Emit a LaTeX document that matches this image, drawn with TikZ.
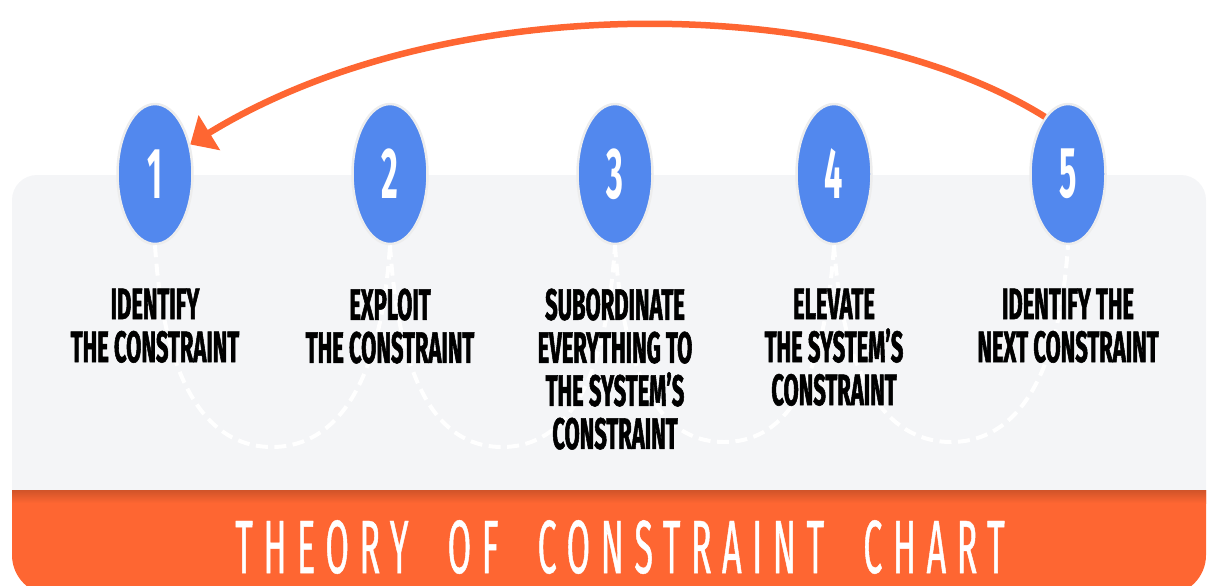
\documentclass[tikz,border=0pt]{standalone}
\usepackage{fontspec}
\usetikzlibrary{positioning,shapes.geometric,arrows.meta}
\newfontfamily\stepfont{Fira Sans}[FakeStretch=0.5,FakeBold=1.2]
\newfontfamily\numfont{Fira Sans}[FakeStretch=0.45]
\newfontfamily\titlefont{Fira Sans}[FakeStretch=0.45,FakeBold=0.6,LetterSpace=14,WordSpace=2]
\definecolor{tocblue}{RGB}{82,136,238}
\definecolor{tocorange}{RGB}{254,102,50}
\definecolor{tocgrey}{RGB}{244,245,247}
\tikzset{
	stepnum/.style={ellipse, fill=tocblue, draw=white!93!black, line width=0.05cm, minimum width=1.5cm, minimum height=2.8cm, inner sep=0pt, text=white, font=\numfont\bfseries\fontsize{41}{41}\selectfont},
	steplabel/.style={align=center, inner sep=0pt, font=\stepfont\bfseries\fontsize{25}{24.5}\selectfont},
	dashloop/.style={white, line width=0.08cm, dash pattern=on 0.24cm off 0.13cm},
}

\begin{document}
\begin{tikzpicture}[x=0.02cm,y=-0.02cm]
\clip (0,0) rectangle (1209,585);
\fill[tocgrey, rounded corners=0.5cm] (12,175) rectangle (1206,560);
\begin{scope}
	\clip (0,490) rectangle (1209,600);
	\fill[tocorange, rounded corners=0.8cm] (12,450) rectangle (1206,595);
	\shade[top color=tocorange!82!black, bottom color=tocorange] (12,490) rectangle (1206,503);
\end{scope}
\node[text=white, inner sep=0pt, font=\titlefont\fontsize{43}{43}\selectfont] (title) at (620,547) {THEORY OF CONSTRAINT CHART};

\node[stepnum] (c1) at (155,174) {1};
\node[stepnum] (c2) at (390,174) {2};
\node[stepnum] (c3) at (615,174) {3};
\node[stepnum] (c4) at (834,174) {4};
\node[stepnum] (c5) at (1068,174) {5};

\draw[dashloop] (c1.south) .. controls +(10,155) and +(-55,0) .. (272,447) .. controls +(55,0) and +(-10,155) .. (c2.south);
\draw[dashloop] (c2.south) .. controls +(10,155) and +(-55,0) .. (502,447) .. controls +(55,0) and +(-10,155) .. (c3.south);
\draw[dashloop] (c3.south) .. controls +(10,150) and +(-55,0) .. (724,442) .. controls +(55,0) and +(-10,150) .. (c4.south);
\draw[dashloop] (c4.south) .. controls +(10,150) and +(-55,0) .. (951,442) .. controls +(55,0) and +(-10,150) .. (c5.south);

\node[steplabel, below=0.86cm of c1] (t1) {IDENTIFY\\THE CONSTRAINT};
\node[steplabel, below=0.86cm of c2] (t2) {EXPLOIT\\THE CONSTRAINT};
\node[steplabel, below=0.86cm of c3] (t3) {SUBORDINATE\\EVERYTHING TO\\THE SYSTEM’S\\CONSTRAINT};
\node[steplabel, below=0.86cm of c4] (t4) {ELEVATE\\THE SYSTEM’S\\CONSTRAINT};
\node[steplabel, below=0.86cm of c5] (t5) {IDENTIFY THE\\NEXT CONSTRAINT};

\draw[-{Triangle[length=0.45cm,width=0.8cm]}, tocorange, line width=0.13cm] (c5.112) .. controls (850,-5) and (450,-15) .. (c1.40);
\end{tikzpicture}
\end{document}
